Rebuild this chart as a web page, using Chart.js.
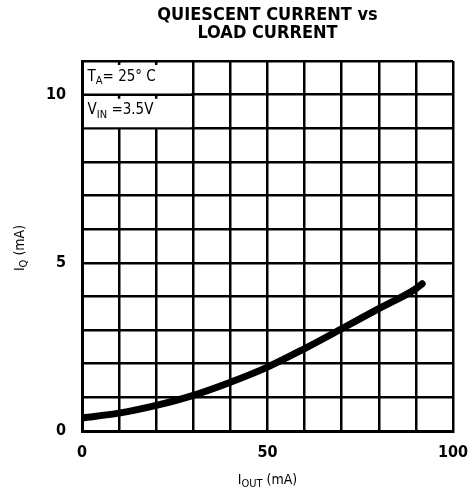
<!DOCTYPE html>
<html>
<head>
<meta charset="utf-8">
<script src="https://cdn.jsdelivr.net/npm/chart.js@4.4.1/dist/chart.umd.min.js"></script>
<style>
  html, body { margin: 0; padding: 0; background: #fff; }
  #wrap { width: 471px; height: 498px; }
</style>
</head>
<body>
<div id="wrap"><canvas id="iqChart" width="471" height="498"></canvas></div>
<script>
// curve
const loadCurrent = [0, 10, 20, 30, 40, 50, 60, 70, 80, 90, 91.7];        // I_OUT (mA)
const quiescentCurrent = [0.39, 0.53, 0.76, 1.06, 1.45, 1.9, 2.45, 3.04, 3.64, 4.23, 4.38]; // I_Q (mA)
const xTickLabels = [0, 50, 100];
const yTickLabels = [0, 5, 10];
const titleLines = ['QUIESCENT CURRENT vs', 'LOAD CURRENT'];
const noteLines = [['T', 'A', '= 25\u00b0 C'], ['V', 'IN', ' =3.5V']];

const condensed = '"Liberation Sans Narrow", "DejaVu Sans Condensed", Arial, sans-serif';

// draw "I" + subscript + rest
function subText(ctx, x, y, main, sub, rest, size) {
  ctx.font = size + 'px ' + condensed;
  const w1 = ctx.measureText(main).width;
  ctx.font = Math.round(size * 0.75) + 'px ' + condensed;
  const w2 = ctx.measureText(sub).width;
  ctx.font = size + 'px ' + condensed;
  const w3 = ctx.measureText(rest).width;
  return { w: w1 + w2 + w3, draw: function (cx) {
    let sx = cx;
    ctx.font = size + 'px ' + condensed;
    ctx.fillText(main, sx, y); sx += w1;
    ctx.font = Math.round(size * 0.75) + 'px ' + condensed;
    ctx.fillText(sub, sx, y + size * 0.3); sx += w2;
    ctx.font = size + 'px ' + condensed;
    ctx.fillText(rest, sx, y);
  }};
}

const notePlugin = {
  id: 'notes',
  beforeDatasetsDraw(chart) {
    const ctx = chart.ctx;
    const xs = chart.scales.x, ys = chart.scales.y;
    // clear the vertical grid inside the condition box
    const l = xs.getPixelForValue(0) + 2, r = xs.getPixelForValue(30) - 2;
    const t = ys.getPixelForValue(11) + 2, b = ys.getPixelForValue(9) - 1;
    ctx.save();
    ctx.fillStyle = '#fff';
    ctx.fillRect(l, t, r - l, b - t);
    ctx.strokeStyle = '#000';
    ctx.lineWidth = 2.5;
    ctx.beginPath();
    const y10 = ys.getPixelForValue(10);
    ctx.moveTo(l - 2, y10); ctx.lineTo(r + 2, y10);
    [10, 20].forEach(v => {
      const px = xs.getPixelForValue(v);
      [11, 10].forEach(yv => {
        const py = ys.getPixelForValue(yv);
        ctx.moveTo(px, py); ctx.lineTo(px, py + 4);
      });
    });
    ctx.stroke();
    ctx.fillStyle = '#000';
    ctx.textBaseline = 'middle';
    ctx.textAlign = 'left';
    noteLines.forEach((n, i) => {
      const py = ys.getPixelForValue(10.5 - i);
      subText(ctx, 0, py - 1, n[0], n[1], n[2], 15).draw(xs.getPixelForValue(1.5));
    });
    ctx.restore();
  },
  afterDraw(chart) {
    const ctx = chart.ctx;
    const area = chart.chartArea;
    const cx = (area.left + area.right) / 2;
    ctx.save();
    ctx.fillStyle = '#000';
    ctx.textBaseline = 'middle';
    ctx.textAlign = 'center';
    // chart title, centred over the plot area
    ctx.font = 'bold 18px ' + condensed;
    titleLines.forEach((s, i) => ctx.fillText(s, cx, 15 + i * 18));
    ctx.textAlign = 'left';
    // x axis title
    const xt = subText(ctx, 0, 480, 'I', 'OUT', ' (mA)', 14);
    xt.draw(cx - xt.w / 2);
    // y axis title
    ctx.translate(20, (area.top + area.bottom) / 2 + 2);
    ctx.rotate(-Math.PI / 2);
    const yt = subText(ctx, 0, 0, 'I', 'Q', ' (mA)', 14);
    yt.draw(-yt.w / 2);
    ctx.restore();
  }
};

new Chart(document.getElementById('iqChart').getContext('2d'), {
  type: 'line',
  data: {
    datasets: [{
      label: 'IQ',
      data: loadCurrent.map((x, i) => ({ x: x, y: quiescentCurrent[i] })),
      borderColor: '#000',
      borderWidth: 7,
      borderCapStyle: 'round',
      pointRadius: 0,
      tension: 0.4,
      cubicInterpolationMode: 'monotone',
      fill: false
    }]
  },
  options: {
    responsive: false,
    animation: false,
    layout: { padding: { left: 0, right: 18, top: 61, bottom: 0 } },
    plugins: {
      legend: { display: false },
      tooltip: { enabled: false },
      title: { display: false }
    },
    scales: {
      x: {
        type: 'linear',
        min: 0, max: 100,
        afterFit(s) { s.height = 67; s.paddingLeft = 0; s.paddingRight = 0; },
        border: { display: true, color: '#000', width: 3 },
        grid: { color: '#000', lineWidth: 2.5, drawTicks: false },
        ticks: {
          stepSize: 10,
          padding: 12,
          color: '#000',
          font: { family: condensed, size: 16, weight: 'bold' },
          callback: v => xTickLabels.includes(v) ? String(v) : ''
        }
      },
      y: {
        type: 'linear',
        min: 0, max: 11,
        afterFit(s) { s.width = 82; s.paddingTop = 0; s.paddingBottom = 0; },
        border: { display: true, color: '#000', width: 3 },
        grid: { color: '#000', lineWidth: 2.5, drawTicks: false },
        ticks: {
          stepSize: 1,
          padding: 16,
          color: '#000',
          font: { family: condensed, size: 16, weight: 'bold' },
          callback: v => yTickLabels.includes(v) ? String(v) : ''
        }
      }
    }
  },
  plugins: [notePlugin]
});
</script>
</body>
</html>
